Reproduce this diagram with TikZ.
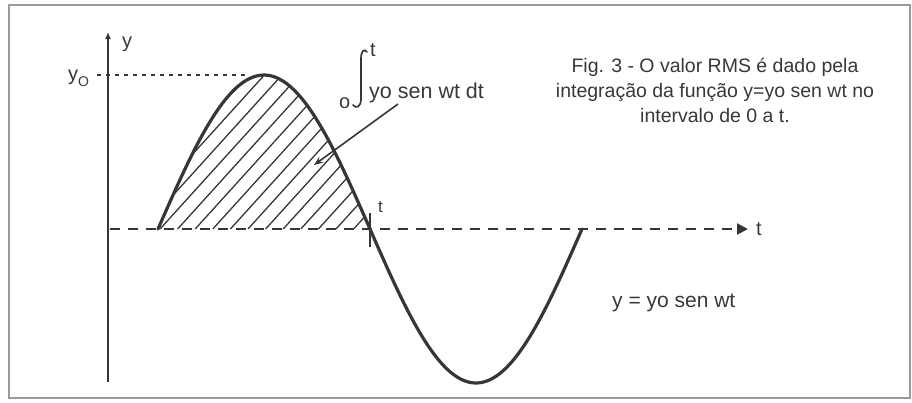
\documentclass[tikz,border=0pt]{standalone}
\usepackage{fontspec}
\setmainfont{Liberation Sans}
\usetikzlibrary{arrows.meta}
\definecolor{ink}{HTML}{363636}
\definecolor{txt}{HTML}{383838}
\definecolor{framec}{HTML}{9A9A9A}
\begin{document}
\begin{tikzpicture}[x=1pt,y=-1pt,
  wave/.style={draw=ink,line width=3.2pt,line join=round,line cap=round},
  axisline/.style={draw=ink,line width=2.2pt},
  hatchline/.style={draw=ink,line width=1.3pt},
  lbl/.style={text=txt,inner sep=0pt,anchor=base west,font=\fontsize{20}{24}\selectfont},
  captxt/.style={text=txt,inner sep=0pt,anchor=base,font=\fontsize{19.5}{24}\selectfont}
]
\useasboundingbox (0,0) rectangle (912,402);
\draw[framec,line width=1.5pt] (9,5) rectangle (910,398);

% named points
\coordinate (ybot) at (108,382);
\coordinate (ytop) at (108,32);
\coordinate (xstart) at (110,229);
\coordinate (xend) at (748,229);
\coordinate (y0left) at (97,75);
\coordinate (peak) at (246,75);
\coordinate (ticktop) at (370,213);
\coordinate (tickbot) at (370,247);
\coordinate (arrstart) at (398,104);
\coordinate (arrtip) at (314,165);

% hatching
\begin{scope}
\clip plot[domain=0:180,samples=80] ({158+\x*1.177778},{229-154*sin(\x)}) -- cycle;
\foreach \k in {-14,...,12} \draw[hatchline] ({160+17.6*\k},229) -- ++(145,-160);
\end{scope}

% axes
\draw[ink,line width=1.8pt,dash pattern=on 4pt off 5pt] (y0left) -- (peak);
\draw[ink,line width=2.2pt,dash pattern=on 10pt off 8pt,-{Triangle[length=11pt,width=11pt]}] (xstart) -- (xend);
\draw[axisline,-{Latex[length=7pt,width=6pt]}] (ybot) -- (ytop);
\draw[ink,line width=2pt] (tickbot) -- (ticktop);

% sine
\draw[wave] plot[domain=0:360,samples=120,smooth] ({158+\x*1.177778},{229-154*sin(\x)});

% integral sign
\draw[ink,line width=1.7pt,line cap=round] (367,52) .. controls (364,48) and (361,51) .. (361,59) -- (361,99) .. controls (361,107) and (356,109) .. (353,105);

% labels
\node[lbl] (ylab) at (122,47) {y};
\node[lbl] (y0lab) at (68,80) {y\raisebox{-6pt}{\fontsize{14}{14}\selectfont O}};
\node[lbl] (tup) at (370,56) {t};
\node[lbl] (olow) at (339,108) {o};
\node[lbl,font=\fontsize{21.5}{24}\selectfont] (intg) at (369,98) {yo sen wt dt};
\node[lbl,font=\fontsize{17}{20}\selectfont] (ttick) at (378,212) {t};
\node[lbl] (tx) at (756,235) {t};
\node[lbl,font=\fontsize{21}{24}\selectfont] (curvelbl) at (612,307) {y = yo sen wt};

\draw[ink,line width=1.6pt,-{Stealth[length=9pt,width=7pt]}] (arrstart) -- (arrtip);

% caption
\node[captxt] (cap1) at (715,72) {Fig. 3 - O valor RMS é dado pela};
\node[captxt] (cap2) at (715,97) {integração da função y=yo sen wt no};
\node[captxt] (cap3) at (715,122) {intervalo de 0 a t.};
\end{tikzpicture}
\end{document}
